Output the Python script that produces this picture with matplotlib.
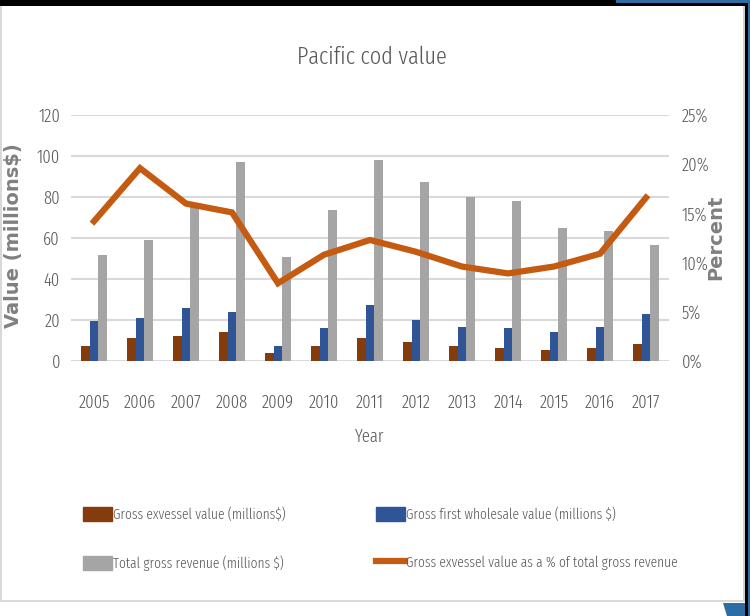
import matplotlib
matplotlib.use("Agg")
import matplotlib.pyplot as plt
from matplotlib import font_manager
from matplotlib.font_manager import FontProperties
from matplotlib.patches import Rectangle, Polygon, Patch
from matplotlib.lines import Line2D
from matplotlib.ticker import FuncFormatter
import numpy as np

years = ["2005", "2006", "2007", "2008", "2009", "2010", "2011",
         "2012", "2013", "2014", "2015", "2016", "2017"]
exvessel = [7.4, 11.3, 12.1, 14.2, 3.8, 7.4, 11.3, 9.2, 7.1, 6.2, 5.6, 6.2, 8.4]
wholesale = [19.6, 21.0, 25.7, 23.7, 7.4, 16.2, 27.2, 20.0, 16.6, 15.9, 14.0, 16.6, 22.8]
total_rev = [51.9, 58.8, 76.0, 97.2, 50.6, 73.8, 97.9, 87.5, 80.0, 78.0, 64.9, 63.4, 56.5]
pct_exvessel = [14.2, 19.6, 16.0, 15.1, 7.9, 10.8, 12.3, 11.1, 9.6, 8.9, 9.6, 10.9, 16.6]

left_ticks = [0, 20, 40, 60, 80, 100, 120]
right_ticks = [0, 5, 10, 15, 20, 25]

# pick a condensed / narrow sans font if one is installed
def pick_condensed():
    best, best_score = None, None
    for f in font_manager.fontManager.ttflist:
        nm = f.name.lower()
        fn = f.fname.lower()
        is_cond = ("condensed" in str(f.stretch)) or ("narrow" in nm) or ("condensed" in nm) \
            or ("condensed" in fn) or ("narrow" in fn)
        if not is_cond:
            continue
        if "serif" in nm and "sans" not in nm:
            continue
        if "mono" in nm or "mono" in fn or "italic" in fn or "oblique" in fn or f.style != "normal":
            continue
        if "cjk" in nm:
            continue
        w = f.weight if isinstance(f.weight, int) else 400
        score = abs(w - 350)
        if "extracondensed" in fn or "extra condensed" in nm:
            score -= 50
        if best_score is None or score < best_score:
            best, best_score = f, score
    return best

cf = pick_condensed()
if cf is not None:
    def FP(size):
        return FontProperties(fname=cf.fname, size=size)
    SCALE = 1.0
else:
    def FP(size):
        return FontProperties(family="DejaVu Sans", stretch="condensed", size=size)
    SCALE = 0.85

TXT = "#595959"

W, H = 750, 616
fig = plt.figure(figsize=(W / 100, H / 100), dpi=100)
fig.patch.set_facecolor("white")

def fx(x):
    return x / W

def fy(y):
    return 1 - y / H

# frame decorations
fig.add_artist(Rectangle((fx(616), fy(3)), fx(134), 3 / H, transform=fig.transFigure,
                         color="#2e6da4", lw=0, zorder=0))
fig.add_artist(Rectangle((0, fy(3)), fx(616), 3 / H, transform=fig.transFigure,
                         color="black", lw=0, zorder=0))
fig.add_artist(Rectangle((0, fy(5.5)), fx(748), 2.5 / H, transform=fig.transFigure,
                         color="black", lw=0, zorder=0))
fig.add_artist(Rectangle((fx(748), 0), fx(2), 1, transform=fig.transFigure,
                         color="#2e6da4", lw=0, zorder=0))
fig.add_artist(Rectangle((fx(745), 0), fx(3), fy(3), transform=fig.transFigure,
                         color="black", lw=0, zorder=0))
fig.add_artist(Rectangle((fx(743), fy(601)), fx(2), (601 - 6) / H, transform=fig.transFigure,
                         color="#d0d0d0", lw=0, zorder=0))
fig.add_artist(Rectangle((0, fy(602)), fx(745), 2.5 / H, transform=fig.transFigure,
                         color="#d9d9d9", lw=0, zorder=0))
fig.add_artist(Rectangle((0, fy(602)), fx(2), (602 - 6) / H, transform=fig.transFigure,
                         color="#d9d9d9", lw=0, zorder=0))
fig.add_artist(Polygon([(fx(723), fy(603)), (fx(745), fy(603)), (fx(745), 0), (fx(727), 0)],
                       closed=True, transform=fig.transFigure, color="#2e6da4", lw=0, zorder=0))

ax = fig.add_axes([fx(71), fy(361), fx(669 - 71), (361 - 115) / H])
x = np.arange(len(years))
w = 0.19
ax.bar(x - w, exvessel, w, color="#843c0c", zorder=2)
ax.bar(x, wholesale, w, color="#2f5597", zorder=2)
ax.bar(x + w, total_rev, w, color="#a5a5a5", zorder=2)
ax.set_xlim(-0.5, len(years) - 0.5)
ax.set_ylim(0, 120)
ax.set_yticks(left_ticks)
ax.set_yticklabels([str(v) for v in left_ticks])
ax.set_xticks(x)
ax.set_xticklabels(years)
ax.grid(axis="y", color="#d9d9d9", lw=1.5, zorder=0)
ax.set_axisbelow(True)
for s in ax.spines.values():
    s.set_visible(False)
ax.tick_params(length=0, colors=TXT)
ax.tick_params(axis="x", pad=24)
ax.tick_params(axis="y", pad=8)
for lab in ax.get_xticklabels() + ax.get_yticklabels():
    lab.set_fontproperties(FP(13 * SCALE))

ax2 = ax.twinx()
ax2.plot(x, [p / 100 for p in pct_exvessel], color="#c55a11", lw=4.5,
         solid_joinstyle="miter", zorder=3)
ax2.set_ylim(0, 0.25)
ax2.set_yticks([t / 100 for t in right_ticks])
ax2.yaxis.set_major_formatter(FuncFormatter(lambda v, p: f"{v * 100:.0f}%"))
for s in ax2.spines.values():
    s.set_visible(False)
ax2.tick_params(length=0, colors=TXT, pad=9)
fig.canvas.draw()
for lab in ax2.get_yticklabels():
    lab.set_fontproperties(FP(13 * SCALE))

fig.text(fx(372), fy(57), "Pacific cod value", ha="center", va="center",
         color=TXT, fontproperties=FP(17.5 * SCALE))
fig.text(fx(370), fy(437), "Year", ha="center", va="center",
         color=TXT, fontproperties=FP(13 * SCALE))
fig.text(fx(14), fy(236), "Value (millions$)", rotation=90, ha="center", va="center",
         fontsize=14, color="#808080", fontweight="bold", family="DejaVu Sans")
fig.text(fx(716), fy(237), "Percent", rotation=90, ha="center", va="center",
         fontsize=14, color="#808080", fontweight="bold", family="DejaVu Sans")

lfs = 10.5 * SCALE
leg_kw = dict(loc="upper left", frameon=False, borderpad=0, borderaxespad=0,
              handlelength=29 / (lfs * 100 / 72), handleheight=1.05,
              handletextpad=0.08, labelspacing=2.3, prop=FP(lfs))
leg1 = fig.legend([Patch(color="#843c0c"), Patch(color="#a5a5a5")],
                  ["Gross exvessel value (millions$)", "Total gross revenue (millions $)"],
                  bbox_to_anchor=(fx(83), fy(507)), **leg_kw)
leg2 = fig.legend([Patch(color="#2f5597"), Line2D([], [], color="#c55a11", lw=4.5)],
                  ["Gross first wholesale value (millions $)",
                   "Gross exvessel value as a % of total gross revenue"],
                  bbox_to_anchor=(fx(376), fy(507)), **leg_kw)
for lg in (leg1, leg2):
    for t in lg.get_texts():
        t.set_color(TXT)

fig.savefig("out.png", dpi=100, facecolor="white")
